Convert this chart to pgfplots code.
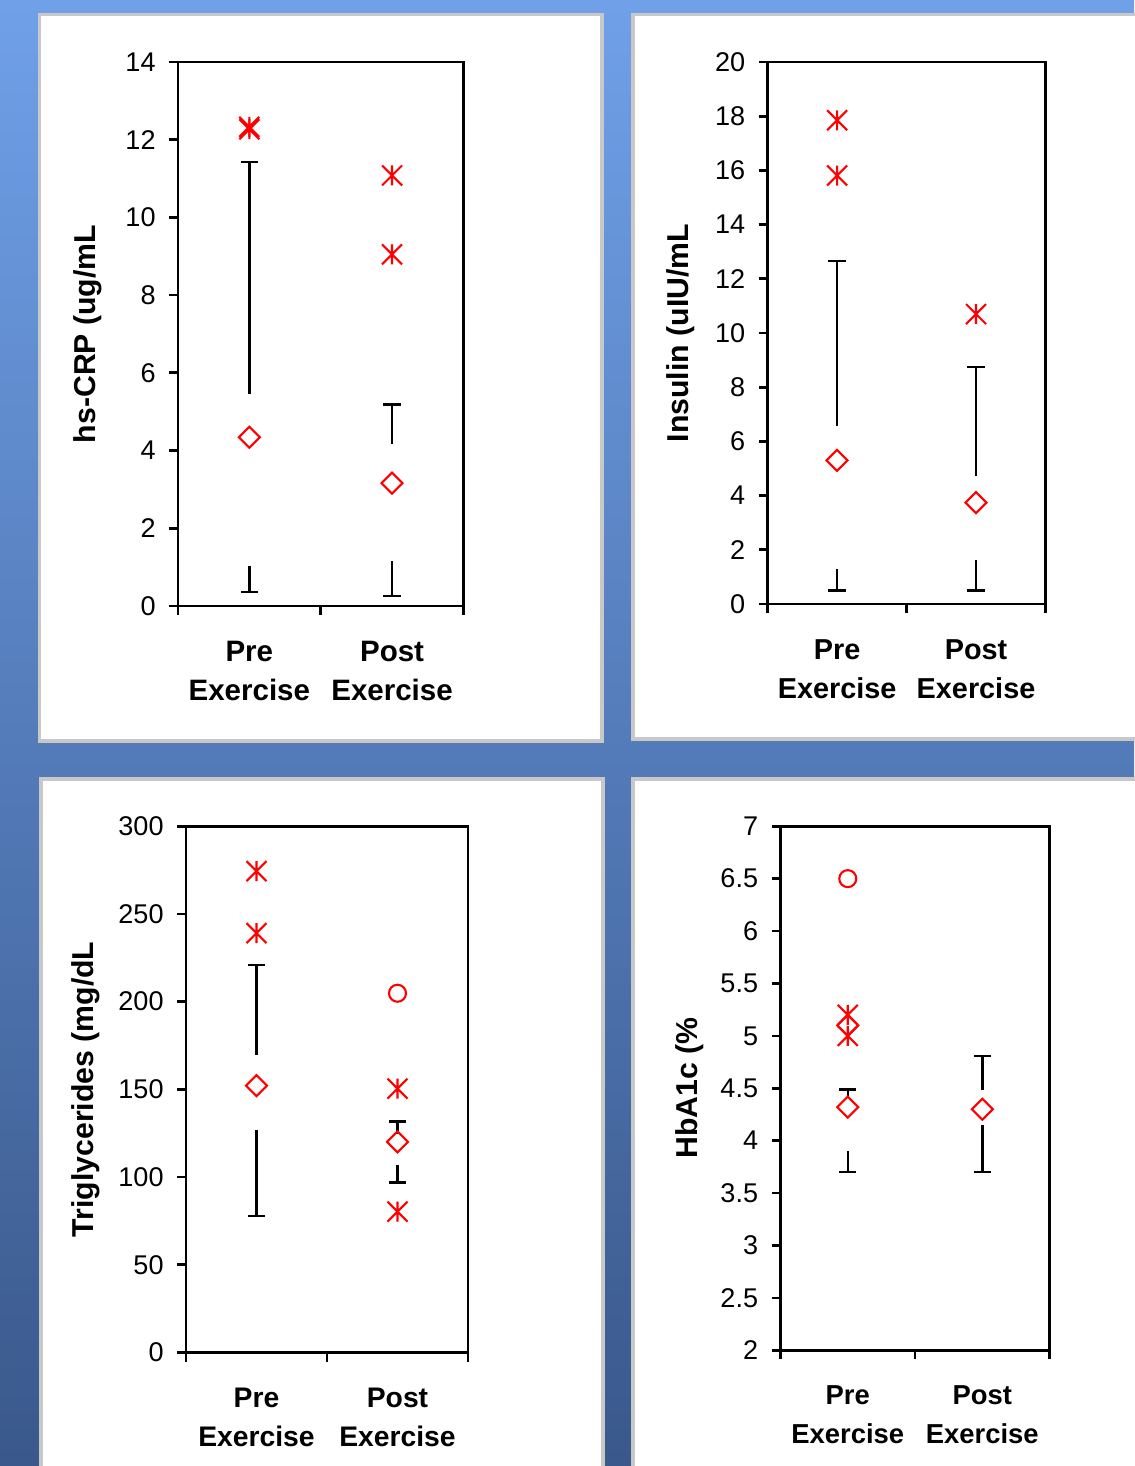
\documentclass[border=0pt]{standalone}
\usepackage{fontspec}
\setmainfont{Liberation Sans}
\usepackage{pgfplots}
\pgfplotsset{compat=1.18}
\pgfdeclareplotmark{xstar}{%
  \pgfpathmoveto{\pgfqpoint{-\pgfplotmarksize}{-\pgfplotmarksize}}%
  \pgfpathlineto{\pgfqpoint{\pgfplotmarksize}{\pgfplotmarksize}}%
  \pgfpathmoveto{\pgfqpoint{-\pgfplotmarksize}{\pgfplotmarksize}}%
  \pgfpathlineto{\pgfqpoint{\pgfplotmarksize}{-\pgfplotmarksize}}%
  \pgfpathmoveto{\pgfqpoint{0pt}{-\pgfplotmarksize}}%
  \pgfpathlineto{\pgfqpoint{0pt}{\pgfplotmarksize}}%
  \pgfusepathqstroke}
\pgfdeclareplotmark{dmd}{%
  \pgfpathmoveto{\pgfqpoint{0pt}{\pgfplotmarksize}}%
  \pgfpathlineto{\pgfqpoint{\pgfplotmarksize}{0pt}}%
  \pgfpathlineto{\pgfqpoint{0pt}{-\pgfplotmarksize}}%
  \pgfpathlineto{\pgfqpoint{-\pgfplotmarksize}{0pt}}%
  \pgfpathclose\pgfusepathqstroke}
\definecolor{bgtop}{RGB}{112,160,232}
\definecolor{bgmid}{RGB}{84,124,186}
\definecolor{bgbot}{RGB}{58,88,138}
\definecolor{pborder}{RGB}{200,200,200}
\pgfplotsset{
 panel/.style={
  scale only axis, clip=false,
  xmin=0, xmax=2, xtick={0,1,2}, xticklabels={},
  extra x ticks={0.5,1.5},
  extra x tick labels={Pre\\Exercise,Post\\Exercise},
  extra x tick style={major tick length=0pt,
    tick label style={align=center, font=\fontsize{#1}{11.1}\selectfont\bfseries, yshift=-0.23cm}},
  tick align=outside, tick pos=left, major tick length=0.09cm,
  axis line style={line width=0.75pt},
  tick style={line width=0.75pt, black},
  yticklabel style={font=\fontsize{7.7}{9}\selectfont, xshift=-0.01cm},
  /pgf/number format/assume math mode=true,
  ylabel style={font=\fontsize{8.6}{11}\selectfont\bfseries, anchor=center},
 },
 whisk/.style={black, line width=0.7pt, mark=none},
 caps/.style={black, only marks, mark=-, mark size=0.087cm, mark options={line width=0.7pt}},
 dmdp/.style={red, only marks, mark=dmd, mark size=0.105cm, mark options={line width=0.6pt}},
 starp/.style={red, only marks, mark=xstar, mark size=0.1cm, mark options={line width=0.6pt}},
 circp/.style={red, only marks, mark=o, mark size=0.085cm, mark options={line width=0.6pt}},
}
\begin{document}
\begin{tikzpicture}
\useasboundingbox (0,0) rectangle (11.34,-14.66);
\shade[top color=bgtop, bottom color=bgbot, middle color=bgmid] (0,0) rectangle (11.34,-14.66);
\draw[pborder, line width=1.1pt, fill=white] (0.395,-0.145) rectangle (6.018,-7.407);
\draw[pborder, line width=1.1pt, fill=white] (6.334,-0.145) rectangle (11.6,-7.392);
\draw[pborder, line width=1.1pt, fill=white] (0.407,-7.789) rectangle (6.03,-15.0);
\draw[pborder, line width=1.1pt, fill=white] (6.33,-7.789) rectangle (11.6,-15.0);

% hs-CRP
\begin{axis}[panel=8.4, at={(1.78cm,-6.059cm)}, anchor=south west,
  width=2.854cm, height=5.439cm, ymin=0, ymax=14, ytick={0,2,...,14},
  ylabel={hs-CRP (ug/mL}, ylabel style={at={(axis description cs:-0.315,0.5)}}]
\addplot[whisk] coordinates {(0.5,5.46) (0.5,11.42)};
\addplot[whisk] coordinates {(0.5,0.36) (0.5,1.02)};
\addplot[whisk] coordinates {(1.5,4.18) (1.5,5.18)};
\addplot[whisk] coordinates {(1.5,0.25) (1.5,1.15)};
\addplot[caps] coordinates {(0.5,11.42) (0.5,0.36) (1.5,5.18) (1.5,0.25)};
\addplot[dmdp] coordinates {(0.5,4.34) (1.5,3.16)};
\addplot[starp] coordinates {(0.5,12.27) (0.5,12.33) (1.5,11.08) (1.5,9.05)};
\end{axis}

% Insulin
\begin{axis}[panel=8.2, at={(7.676cm,-6.04cm)}, anchor=south west,
  width=2.779cm, height=5.42cm, ymin=0, ymax=20, ytick={0,2,...,20},
  ylabel={Insulin (uIU/mL}, ylabel style={at={(axis description cs:-0.313,0.5)}}]
\addplot[whisk] coordinates {(0.5,6.58) (0.5,12.66)};
\addplot[whisk] coordinates {(0.5,0.50) (0.5,1.31)};
\addplot[whisk] coordinates {(1.5,4.72) (1.5,8.75)};
\addplot[whisk] coordinates {(1.5,0.50) (1.5,1.63)};
\addplot[caps] coordinates {(0.5,12.66) (0.5,0.50) (1.5,8.75) (1.5,0.50)};
\addplot[dmdp] coordinates {(0.5,5.30) (1.5,3.74)};
\addplot[starp] coordinates {(0.5,17.85) (0.5,15.81) (1.5,10.70)};
\end{axis}

% Triglycerides
\begin{axis}[panel=8.05, at={(1.86cm,-13.525cm)}, anchor=south west,
  width=2.82cm, height=5.263cm, ymin=0, ymax=300, ytick={0,50,...,300},
  ylabel={Triglycerides (mg/dL}, ylabel style={at={(axis description cs:-0.355,0.5)}}]
\addplot[whisk] coordinates {(0.5,169.6) (0.5,220.9)};
\addplot[whisk] coordinates {(0.5,77.8) (0.5,126.8)};
\addplot[whisk] coordinates {(1.5,124.7) (1.5,131.7)};
\addplot[whisk] coordinates {(1.5,97.0) (1.5,106.8)};
\addplot[caps] coordinates {(0.5,220.9) (0.5,77.8) (1.5,131.7) (1.5,97.0)};
\addplot[dmdp] coordinates {(0.5,152.2) (1.5,120.1)};
\addplot[starp] coordinates {(0.5,274.4) (0.5,239.0) (1.5,150.4) (1.5,80.3)};
\addplot[circp] coordinates {(1.5,204.8)};
\end{axis}

% HbA1c
\begin{axis}[panel=7.8, at={(7.805cm,-13.503cm)}, anchor=south west,
  width=2.691cm, height=5.241cm, ymin=2, ymax=7, ytick={2,2.5,...,7},
  ylabel={HbA1c (\%}, ylabel style={at={(axis description cs:-0.336,0.5)}}]
\addplot[whisk] coordinates {(0.5,4.41) (0.5,4.49)};
\addplot[whisk] coordinates {(0.5,3.70) (0.5,3.90)};
\addplot[whisk] coordinates {(1.5,4.48) (1.5,4.81)};
\addplot[whisk] coordinates {(1.5,3.70) (1.5,4.15)};
\addplot[caps] coordinates {(0.5,4.49) (0.5,3.70) (1.5,4.81) (1.5,3.70)};
\addplot[dmdp] coordinates {(0.5,4.32) (0.5,5.10) (1.5,4.30)};
\addplot[starp] coordinates {(0.5,5.20) (0.5,5.00)};
\addplot[circp] coordinates {(0.5,6.50)};
\end{axis}
\end{tikzpicture}
\end{document}
